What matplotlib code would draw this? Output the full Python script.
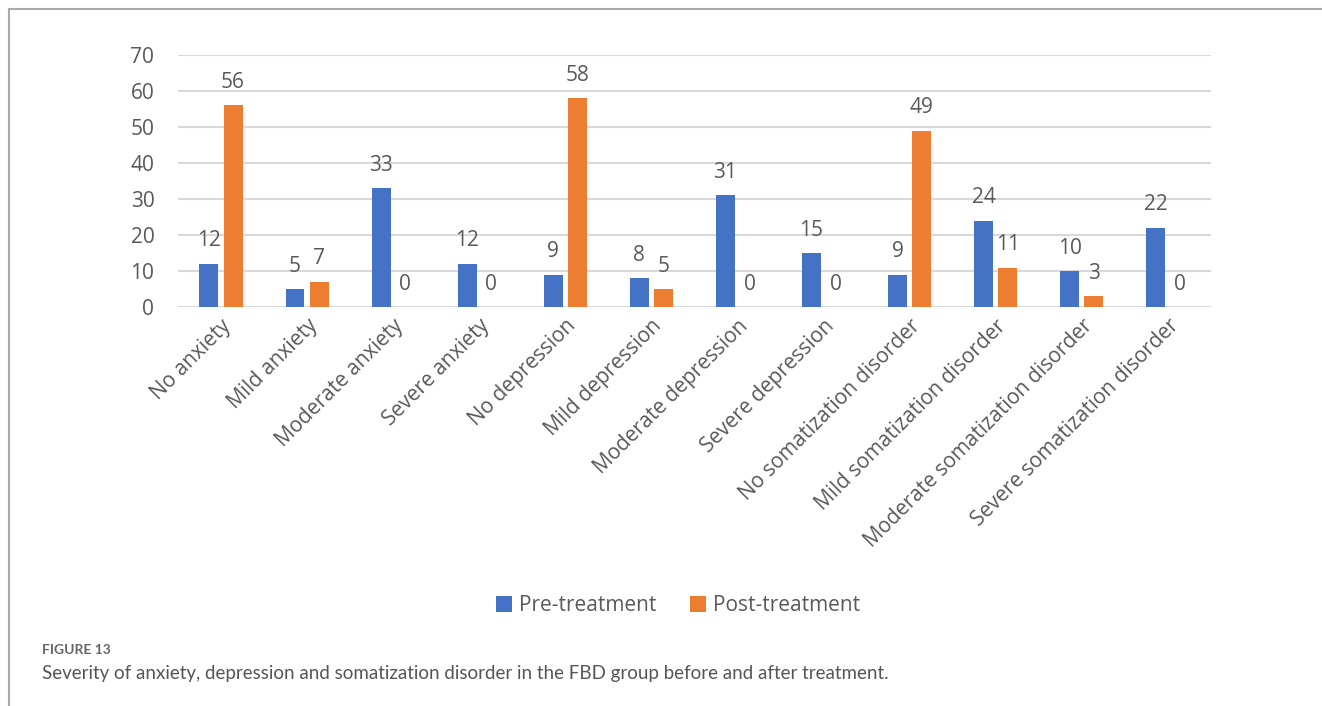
import matplotlib.pyplot as plt
import numpy as np
from matplotlib.lines import Line2D

categories = ["No anxiety", "Mild anxiety", "Moderate anxiety", "Severe anxiety",
              "No depression", "Mild depression", "Moderate depression", "Severe depression",
              "No somatization disorder", "Mild somatization disorder",
              "Moderate somatization disorder", "Severe somatization disorder"]
pre_treatment = [12, 5, 33, 12, 9, 8, 31, 15, 9, 24, 10, 22]
post_treatment = [56, 7, 0, 0, 58, 5, 0, 0, 49, 11, 3, 0]
series_names = ["Pre-treatment", "Post-treatment"]

plt.rcParams['font.family'] = ['Open Sans', 'DejaVu Sans']
blue = '#4472C4'
orange = '#ED7D31'
grey = '#595959'

fig = plt.figure(figsize=(13.22, 7.06), dpi=100)
ax = fig.add_axes([0.1346, 0.565, 0.7814, 0.357])

x = np.arange(len(categories))
w = 0.22
off = 0.14
b1 = ax.bar(x - off, pre_treatment, w, color=blue, label=series_names[0])
b2 = ax.bar(x + off, post_treatment, w, color=orange, label=series_names[1])
ax.bar_label(b1, padding=9, fontsize=15, color=grey)
ax.bar_label(b2, padding=9, fontsize=15, color=grey)

ax.set_xlim(-0.5, len(categories) - 0.5)
ax.set_ylim(0, 70)
ax.set_yticks(range(0, 71, 10))
ax.yaxis.grid(True, color='#d9d9d9', linewidth=1.5)
ax.set_axisbelow(True)
for s in ax.spines.values():
    s.set_visible(False)
ax.tick_params(axis='both', length=0, labelsize=15, labelcolor=grey)
ax.tick_params(axis='y', pad=17)
ax.set_xticks(x)
ax.set_xticklabels(categories, rotation=45, ha='right', rotation_mode='anchor')
ax.tick_params(axis='x', pad=6)

fig.legend(handles=[b1, b2], loc='center', bbox_to_anchor=(0.513, 0.142), ncol=2,
           frameon=False, fontsize=15, labelcolor=grey, handlelength=0.75,
           handleheight=0.75, handletextpad=0.35, columnspacing=1.6)

# frame around figure panel
fig.add_artist(Line2D([9 / 1322, 1], [1 - 9 / 706, 1 - 9 / 706], color='#aaaaaa', linewidth=1.5))
fig.add_artist(Line2D([9 / 1322, 9 / 1322], [0, 1 - 9 / 706], color='#aaaaaa', linewidth=1.5))

fig.text(42 / 1322, 1 - 650 / 706, "FIGURE 13", fontsize=10, color='#666666',
         fontweight='bold', family=['Lato', 'DejaVu Sans'], va='center')
fig.text(42 / 1322, 1 - 673 / 706,
         "Severity of anxiety, depression and somatization disorder in the FBD group before and after treatment.",
         fontsize=13.5, color='#555555', family=['Lato', 'DejaVu Sans'], va='center')

fig.savefig('out.png', dpi=100)
